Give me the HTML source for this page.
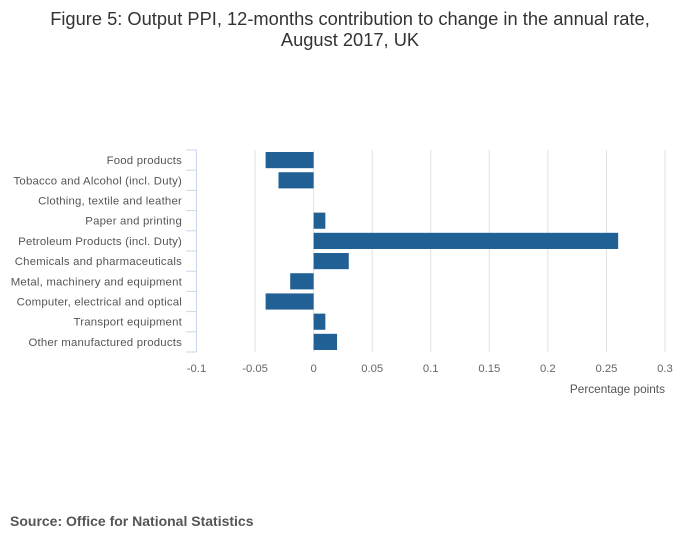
<!DOCTYPE html>
<html><head><meta charset="utf-8"><style>
body{margin:0;background:#fff;font-family:"Liberation Sans",sans-serif;}
</style></head><body>
<svg width="700" height="549" xmlns="http://www.w3.org/2000/svg">
<text x="350" y="25" text-anchor="middle" font-size="18.3" fill="#333">Figure 5: Output PPI, 12-months contribution to change in the annual rate,</text>
<text x="350" y="46" text-anchor="middle" font-size="18.3" fill="#333">August 2017, UK</text>
<g id="grid"></g><g id="bars"></g><g id="yaxis"></g><g id="xaxis"></g>
<text x="665" y="393" text-anchor="end" font-size="11.8" fill="#555">Percentage points</text>
<text x="10" y="526" font-size="14" font-weight="bold" fill="#555">Source: Office for National Statistics</text>
</svg>
<script>
const categories=["Food products","Tobacco and Alcohol (incl. Duty)","Clothing, textile and leather","Paper and printing","Petroleum Products (incl. Duty)","Chemicals and pharmaceuticals","Metal, machinery and equipment","Computer, electrical and optical","Transport equipment","Other manufactured products"];
const values=[-0.041,-0.03,0,0.01,0.26,0.03,-0.02,-0.041,0.01,0.02];
const ticks=[-0.1,-0.05,0,0.05,0.1,0.15,0.2,0.25,0.3];
const NS="http://www.w3.org/2000/svg";
const x0=196.5,x1=665,yTop=150,yBot=352;
const X=v=>x0+(v+0.1)/0.4*(x1-x0);
const band=(yBot-yTop)/categories.length;
function mk(t,a,p){const e=document.createElementNS(NS,t);for(const k in a)e.setAttribute(k,a[k]);p.appendChild(e);return e;}
const grid=document.getElementById('grid'),bars=document.getElementById('bars'),ya=document.getElementById('yaxis'),xa=document.getElementById('xaxis');
ticks.forEach(t=>{
 if(t>-0.1){const l=mk('line',{x1:X(t),x2:X(t),y1:yTop,y2:yBot,stroke:'#e0e0e0','stroke-width':1},grid);
 
 }
 const tx=mk('text',{x:X(t),y:372,'text-anchor':'middle','font-size':11.3,fill:'#666'},xa);
 tx.textContent=String(t);
 
 
});
categories.forEach((c,i)=>{
 const v=values[i];const y=yTop+band*i+band*0.1;
 const r=mk('rect',{x:Math.min(X(0),X(v)),y:y,width:Math.abs(X(v)-X(0)),height:band*0.8,fill:'#206095'},bars);
 
 
 const t=mk('text',{x:182,y:yTop+band*(i+0.5)+4,'text-anchor':'end','font-size':11.4,'letter-spacing':0.2,fill:'#555'},ya);
 t.textContent=c;
 
 
});
for(let i=0;i<=categories.length;i++){const y=yTop+band*i;mk('line',{x1:186,x2:x0,y1:y,y2:y,stroke:'#ccd6eb'},ya);}
const ax=mk('line',{x1:x0,x2:x0,y1:yTop,y2:yBot,stroke:'#ccd6eb'},ya);


</script>
</body></html>
